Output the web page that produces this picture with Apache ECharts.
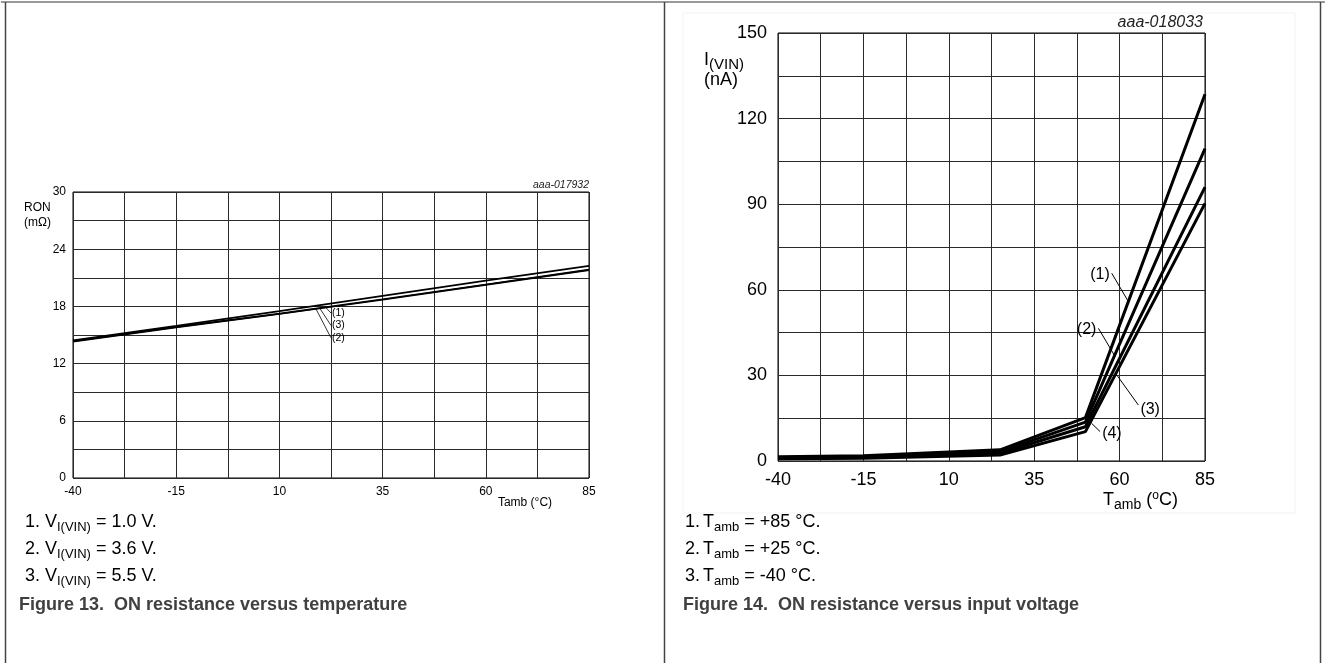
<!DOCTYPE html>
<html><head><meta charset="utf-8">
<script src="https://cdn.jsdelivr.net/npm/echarts@6/dist/echarts.min.js"></script>
<style>html,body{margin:0;padding:0;background:#fff}#c{width:1326px;height:663px}</style>
</head><body><div id="c"></div>
<script>
const FONT = '"Liberation Sans", Arial, sans-serif';

// ---- Figure 13 : ON resistance versus temperature ----
const tempA  = [-40, -15, 10, 35, 60, 85];
const ronV10 = [14.45, 15.95, 17.5, 19.1, 20.7, 22.25];   // (1) VI(VIN)=1.0 V
const ronV36 = [14.3, 15.8, 17.2, 18.7, 20.25, 21.8];     // (2) VI(VIN)=3.6 V
const ronV55 = [14.35, 15.85, 17.25, 18.75, 20.3, 21.85]; // (3) VI(VIN)=5.5 V

// ---- Figure 14 : ON resistance versus input voltage ----
const tempB = [-40, -15, 25, 50, 85];
const iv1 = [1.5, 1.8, 3.9, 15.2, 128.5];
const iv2 = [1.2, 1.5, 3.3, 13.6, 109.5];
const iv3 = [1.0, 1.2, 2.7, 12.0, 96];
const iv4 = [0.8, 1.0, 2.1, 10.3, 90.3];

// annotation leaders (data space)
const leadA = [
  {name:'(1)', from:[21.0, 18.0], to:[22.5, 17.3]},
  {name:'(3)', from:[19.8, 17.8], to:[22.5, 16.0]},
  {name:'(2)', from:[18.9, 17.7], to:[22.5, 14.7]}
];
const leadB = [
  {name:'(1)', from:[57.7, 65.8], to:[62.6, 55.8], side:'left'},
  {name:'(2)', from:[53.8, 46.5], to:[58.7, 36.6], side:'left'},
  {name:'(3)', from:[65.5, 19.6], to:[59.2, 30.1], side:'right'},
  {name:'(4)', from:[54.3, 10.3], to:[51.8, 13.2], side:'right'}
];

const zip = (xs, ys) => xs.map((x, i) => [x, ys[i]]);

function xAx(gi, fs, margin) {
  return {type:'value', gridIndex:gi, min:-40, max:85, interval:12.5,
    axisLine:{show:false}, axisTick:{show:false},
    splitLine:{show:true, lineStyle:{color:'#2a2a2a', width:1}},
    axisLabel:{fontSize:fs, fontFamily:FONT, color:'#000', margin:margin,
      formatter: v => (Math.abs(((v + 40) % 25)) < 1e-6 ? String(v) : '')}};
}
function yAx(gi, max, step, labelStep, fs, margin) {
  return {type:'value', gridIndex:gi, min:0, max:max, interval:step,
    axisLine:{show:false}, axisTick:{show:false},
    splitLine:{show:true, lineStyle:{color:'#2a2a2a', width:1}},
    axisLabel:{fontSize:fs, fontFamily:FONT, color:'#000', margin:margin,
      formatter: v => (Math.abs(v % labelStep) < 1e-6 ? String(v) : '')}};
}
function lineSeries(xi, xs, ys, w) {
  return {type:'line', xAxisIndex:xi, yAxisIndex:xi, data:zip(xs, ys),
    symbol:'none', showSymbol:false, animation:false, silent:true, z:5,
    lineStyle:{color:'#000', width:w}};
}

const sA1 = lineSeries(0, tempA, ronV10, 1.7);
const sA2 = lineSeries(0, tempA, ronV36, 1.7);
const sA3 = lineSeries(0, tempA, ronV55, 1.7);
sA1.markLine = {silent:true, symbol:['none','none'], animation:false,
  lineStyle:{color:'#000', width:0.8, type:'solid'}, label:{show:false},
  data: leadA.map(a => [{coord:a.from}, {coord:a.to}])};
sA1.markPoint = {symbol:'circle', symbolSize:0, animation:false, silent:true,
  label:{show:true, position:'right', distance:1, formatter:'{b}', fontSize:10.5, fontFamily:FONT, color:'#000'},
  data: leadA.map(a => ({name:a.name, coord:a.to}))};

const sB1 = lineSeries(1, tempB, iv1, 3);
const sB2 = lineSeries(1, tempB, iv2, 3);
const sB3 = lineSeries(1, tempB, iv3, 3);
const sB4 = lineSeries(1, tempB, iv4, 3);
sB1.markLine = {silent:true, symbol:['none','none'], animation:false,
  lineStyle:{color:'#000', width:1, type:'solid'}, label:{show:false},
  data: leadB.map(a => [{coord:a.from}, {coord:a.to}])};
sB1.markPoint = {symbol:'circle', symbolSize:0, animation:false, silent:true,
  data: leadB.map(a => ({name:a.name, coord:a.from,
    label:{show:true, position:a.side, distance:2, formatter:'{b}', fontSize:16, fontFamily:FONT, color:'#000',
      offset: a.name === '(3)' ? [0, 5] : (a.name === '(4)' ? [0, 2] : [0, 1])}}))};

const subS = {fontSize:13, fontFamily:FONT, color:'#000', padding:[10,0,0,0]};
function txt(x, y, text, opt) {
  return Object.assign({type:'text', x:x, y:y, silent:true,
    style:Object.assign({text:text, fontSize:18, fontFamily:FONT, fill:'#000', verticalAlign:'middle', align:'left'}, opt || {})});
}
function ln(x1, y1, x2, y2, color, w) {
  return {type:'line', silent:true, shape:{x1, y1, x2, y2}, style:{stroke:color, lineWidth:w}};
}

const legendA = ['V{s|I(VIN)} = 1.0 V.', 'V{s|I(VIN)} = 3.6 V.', 'V{s|I(VIN)} = 5.5 V.'];
const legendB = ['T{s|amb} = +85 °C.', 'T{s|amb} = +25 °C.', 'T{s|amb} = -40 °C.'];
const rowY = [522, 549, 576];

const graphics = [
  ln(1, 2, 1325, 2, '#777', 1.5),
  ln(5.5, 2, 5.5, 663, '#444', 1.5),
  ln(664.5, 2, 664.5, 663, '#444', 1.5),
  ln(1320.5, 2, 1320.5, 663, '#444', 1.5),
  {type:'rect', silent:true, shape:{x:683, y:13, width:612, height:500}, style:{fill:'none', stroke:'#f3f3f3', lineWidth:1}, z:-1},
  // Figure 13 texts
  txt(589, 185, 'aaa-017932', {fontSize:10.5, fontStyle:'italic', align:'right', fill:'#222'}),
  txt(24, 208, 'RON', {fontSize:12}),
  txt(24, 223, '(mΩ)', {fontSize:12}),
  txt(525, 503, 'Tamb (°C)', {fontSize:12, align:'center'}),
  // Figure 14 texts
  txt(1203, 23, 'aaa-018033', {fontSize:16, fontStyle:'italic', align:'right', fill:'#222'}),
  txt(704, 60, 'I{s|(VIN)}', {fontSize:18, rich:{s:Object.assign({}, subS, {fontSize:15, padding:[9,0,0,0]})}}),
  txt(704, 80, '(nA)', {fontSize:18}),
  txt(1103, 500, 'T{s|amb} ({p|o}C)', {fontSize:18, rich:{s:Object.assign({}, subS, {fontSize:14}), p:{fontSize:12, fontFamily:FONT, color:'#000', padding:[0,0,8,0]}}}),
  // captions
  txt(19, 605, 'Figure 13.  ON resistance versus temperature', {fontWeight:'bold', fill:'#404040'}),
  txt(683, 605, 'Figure 14.  ON resistance versus input voltage', {fontWeight:'bold', fill:'#404040'})
];
legendA.forEach((t, i) => {
  graphics.push(txt(25, rowY[i], (i + 1) + '.'));
  graphics.push(txt(45, rowY[i], t, {rich:{s:subS}}));
});
legendB.forEach((t, i) => {
  graphics.push(txt(685, rowY[i], (i + 1) + '.'));
  graphics.push(txt(703, rowY[i], t, {rich:{s:subS}}));
});

const chart = echarts.init(document.getElementById('c'), null, {renderer:'canvas'});
chart.setOption({
  animation:false,
  backgroundColor:'#fff',
  grid:[
    {left:73, top:192, width:516, height:286, show:true, borderColor:'#000', borderWidth:1},
    {left:778, top:33, width:427, height:428, show:true, borderColor:'#000', borderWidth:1}
  ],
  xAxis:[xAx(0, 12, 8), xAx(1, 18, 10)],
  yAxis:[yAx(0, 30, 3, 6, 12, 7), yAx(1, 150, 15, 30, 18, 11)],
  series:[sA2, sA3, sA1, sB4, sB3, sB2, sB1],
  graphic:graphics
});
</script></body></html>
